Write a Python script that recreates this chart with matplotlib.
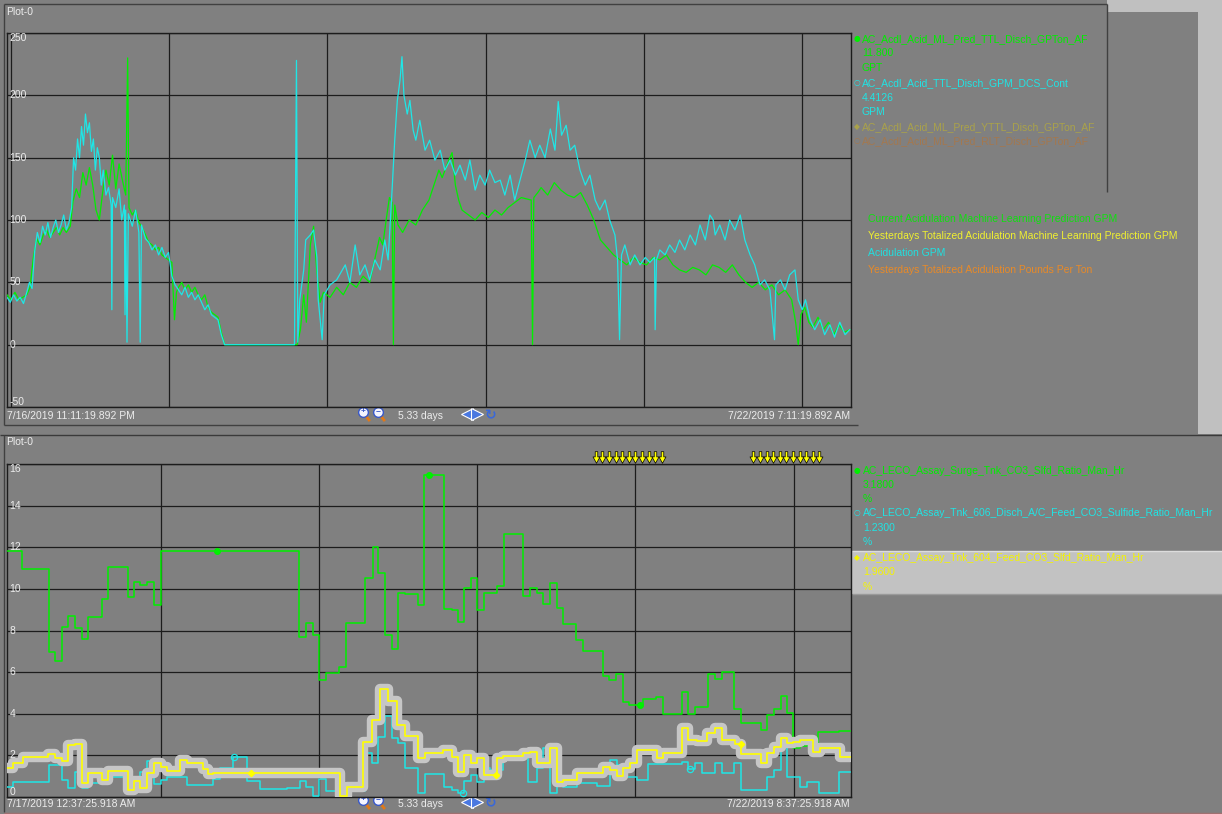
import matplotlib
matplotlib.use("Agg")
import matplotlib.pyplot as plt
import numpy as np
from matplotlib.path import Path
from matplotlib.patches import Rectangle

FONT = ["Liberation Sans", "DejaVu Sans"]
FS = 7.5
W, H = 1222, 814

# ---- top trend: hours since 7/16/2019 11:11:19 PM, span 5.33 days ----
top_span = 128.0
top_midnights = [0.6, 24.6, 48.6, 72.6, 96.6, 120.6]
top_yticks = [250, 200, 150, 100, 50, 0, -50]

acid_gpm = [  # Acidulation GPM (cyan)
    (0, 38), (0.5, 34), (1, 40), (1.5, 35), (2, 38), (2.5, 33), (3, 42), (3.4, 50), (3.8, 45),
    (4.2, 75), (4.6, 90), (5, 82), (5.4, 95), (5.8, 88), (6.2, 98), (6.6, 86), (7, 94), (7.4, 100),
    (7.8, 90), (8.2, 96), (8.6, 104), (9, 92), (9.4, 98), (9.8, 110), (10.1, 150), (10.4, 140),
    (10.7, 165), (11, 150), (11.3, 175), (11.6, 160), (11.9, 185), (12.2, 170), (12.5, 178),
    (12.8, 155), (13.1, 165), (13.4, 140), (13.7, 158), (14, 150), (14.3, 128), (14.6, 140),
    (15, 120), (15.4, 126), (15.8, 112), (15.9, 28), (16, 118), (16.5, 110), (17, 125), (17.4, 100),
    (17.8, 112), (17.9, 24), (18, 108), (18.2, 2), (18.4, 105), (19, 95), (19.5, 108), (20, 90),
    (20.2, 2), (20.4, 96), (21, 85), (21.5, 82), (22, 76), (22.5, 80), (23, 72), (23.5, 78),
    (24, 70), (24.5, 74), (25, 55), (25.5, 48), (26, 44), (26.5, 40), (27, 46), (27.5, 38),
    (28, 42), (28.5, 36), (29, 40), (29.5, 34), (30, 28), (30.5, 32), (31, 24), (31.5, 22),
    (32, 20), (32.5, 8), (33, 0), (43.6, 0), (43.9, 228), (44.1, 2), (44.4, 36), (45, 60),
    (45.3, 84), (46, 88), (46.5, 92), (47, 70), (47.2, 36), (47.8, 4), (48.1, 40), (49, 48),
    (50, 52), (51.3, 64), (52, 50), (52.8, 80), (53.5, 56), (54.3, 64), (55, 52), (55.8, 68),
    (56.6, 60), (57.3, 84), (57.8, 68), (58.4, 124), (58.8, 164), (59.2, 196), (59.6, 212),
    (59.9, 231), (60.2, 200), (60.7, 185), (61.1, 196), (61.6, 172), (62, 164), (62.6, 180),
    (63.4, 156), (64.1, 164), (64.9, 148), (65.7, 156), (66.4, 140), (67.2, 148), (68, 136),
    (68.7, 144), (69.5, 132), (70.2, 148), (71, 124), (71.7, 136), (72.5, 128), (73.2, 140),
    (74, 130), (74.8, 132), (75.5, 120), (76.3, 136), (77, 116), (77.8, 132), (78.6, 148),
    (79.3, 164), (80.1, 150), (80.8, 160), (81.6, 150), (82.4, 173), (83.1, 156), (83.6, 195),
    (84.1, 168), (84.8, 176), (85.4, 156), (86.1, 160), (86.9, 140), (87.7, 128), (88.4, 136),
    (89.2, 116), (89.9, 108), (90.7, 116), (91.4, 100), (92.2, 88), (92.6, 68), (92.9, 4),
    (93.2, 72), (93.7, 80), (94.5, 64), (95.2, 72), (96, 64), (96.8, 70), (97.5, 66), (98.2, 70),
    (98.3, 12), (98.5, 68), (99, 76), (99.8, 72), (100.5, 80), (101.3, 74), (102, 84), (102.8, 76),
    (103.6, 88), (104.4, 80), (105.1, 96), (105.9, 84), (106.6, 104), (107.1, 100), (107.4, 88),
    (108.1, 96), (108.9, 84), (109.6, 100), (110.4, 92), (111.2, 104), (111.9, 84), (112.7, 72),
    (113.4, 64), (114.2, 48), (114.9, 52), (115.7, 44), (116.4, 4), (116.6, 48), (117.3, 52),
    (118, 44), (118.7, 56), (119.5, 60), (120, 36), (120.6, 28), (121.1, 36), (121.8, 20),
    (122.5, 12), (123.3, 20), (124, 8), (124.8, 16), (125.5, 6), (126.3, 18), (127.1, 8),
    (127.8, 12),
]

ml_pred_gpm = [  # Current acidulation ML prediction (green)
    (0, 40), (0.6, 36), (1.2, 42), (1.8, 36), (2.4, 38), (3, 40), (3.5, 46), (4, 70), (4.5, 85),
    (5, 80), (5.5, 88), (6, 92), (6.5, 86), (7, 90), (7.5, 94), (8, 88), (8.5, 94), (9, 90),
    (9.6, 95), (10, 115), (10.5, 125), (11, 118), (11.5, 138), (12, 128), (12.5, 142), (13, 128),
    (13.5, 108), (14, 100), (14.5, 122), (15, 140), (15.5, 128), (16, 152), (16.5, 125), (17, 145),
    (17.5, 132), (18, 120), (18.3, 230), (18.5, 110), (19, 104), (19.5, 108), (20, 98), (20.5, 94),
    (21, 88), (21.5, 82), (22, 80), (22.5, 76), (23, 78), (23.5, 72), (24, 70), (24.5, 68),
    (25, 66), (25.4, 20), (25.7, 42), (26, 46), (26.5, 50), (27, 44), (27.5, 48), (28, 42),
    (28.5, 46), (29, 40), (29.5, 36), (30, 40), (30.5, 30), (31, 26), (31.5, 24), (32, 22),
    (32.5, 10), (33, 0), (44, 0), (44.5, 12), (45, 40), (45.4, 18), (46, 80), (46.5, 95), (47, 58),
    (47.5, 34), (48, 42), (49, 38), (50, 46), (51, 40), (52, 50), (53, 46), (54, 55), (55, 50),
    (56, 74), (56.5, 86), (57, 80), (57.5, 100), (58, 118), (58.4, 114), (58.6, 0), (58.8, 112),
    (59.3, 96), (60, 90), (61, 100), (62, 96), (63, 108), (64, 116), (65, 132), (65.5, 140),
    (66, 134), (67, 148), (67.5, 154), (68, 128), (68.5, 116), (69, 108), (70, 104), (71, 100),
    (72, 106), (73, 102), (74, 108), (75, 104), (76, 110), (77, 114), (78, 118), (79.5, 116),
    (79.7, 0), (79.9, 118), (80.5, 122), (81, 126), (82, 120), (83, 130), (84, 124), (85, 120),
    (86, 118), (87, 122), (88, 112), (89, 100), (90, 84), (91, 78), (92, 72), (93, 68), (94, 64),
    (95, 70), (96, 66), (97, 64), (98, 70), (99, 68), (100, 72), (101, 64), (102, 60), (103, 58),
    (104, 62), (105, 60), (106, 56), (107, 64), (108, 62), (109, 58), (110, 64), (111, 56),
    (112, 50), (113, 46), (114, 50), (115, 44), (116, 48), (117, 40), (118, 44), (119, 36),
    (119.6, 18), (120, 0), (120.4, 24), (121, 30), (121.6, 18), (122.2, 14), (123, 22),
    (123.8, 12), (124.6, 18), (125.4, 8), (126.2, 16), (127, 10), (127.8, 12),
]

# ---- bottom trend: hours since 7/17/2019 12:37:25 AM, step values (start hour, %) ----
bot_span = 128.0
bot_midnights = [23.3, 47.3, 71.3, 95.3, 119.3]
bot_yticks = [16, 14, 12, 10, 8, 6, 4, 2, 0]

surge_tnk = [
    (0, 11.8), (2.3, 10.95), (6.4, 6.97), (7.3, 6.52), (8.3, 8.18), (9.3, 8.7), (10.3, 8.12),
    (11.4, 7.57), (12.3, 8.66), (14.4, 9.53), (15.3, 11.03), (18.4, 9.63), (19.3, 10.35),
    (20.2, 10.19), (21.2, 10.35), (22.3, 9.24), (23.4, 11.8), (44.3, 7.67), (45.3, 8.38),
    (46.4, 7.77), (47.3, 5.62), (48.4, 5.94), (50.4, 6.23), (51.4, 8.34), (54.3, 10.52),
    (55.5, 12.0), (56.3, 10.75), (57.3, 7.78), (58.4, 7.13), (59.3, 9.82), (60.4, 9.74),
    (62.3, 9.21), (63.2, 15.47), (66.3, 9.05), (67.5, 8.99), (68.4, 8.43), (69.3, 10.04),
    (70.4, 10.52), (71.3, 9.0), (72.3, 9.8), (74.3, 10.16), (75.4, 12.64), (78.3, 9.66),
    (79.3, 10.04), (80.4, 9.79), (81.3, 9.26), (82.3, 10.27), (83.4, 9.1), (84.3, 8.29),
    (86.3, 7.54), (87.4, 7.02), (90.4, 5.81), (91.3, 5.62), (92.4, 5.91), (93.4, 4.57),
    (94.3, 4.41), (96.5, 4.72), (98.4, 4.79), (99.5, 3.97), (102.4, 5.03), (103.3, 3.97),
    (104.3, 4.31), (106.3, 5.91), (107.4, 5.69), (108.4, 6.0), (110.3, 4.24), (111.3, 3.54),
    (114.3, 3.22), (115.3, 3.93), (116.3, 4.24), (117.4, 4.87), (118.3, 4.02), (119.2, 2.34),
    (120.3, 2.45), (121.3, 2.5), (123.0, 3.11), (126.2, 3.17),
]

tnk_606 = [
    (0, 0.5), (0.9, 0.71), (6.4, 1.54), (8.3, 0.82), (9.3, 0.42), (10.3, 1.22), (11.4, 0.42),
    (12.3, 0.66), (15.3, 0.98), (18.4, 0.7), (19.3, 0.85), (20.2, 1.19), (21.2, 1.75),
    (22.3, 0.62), (23.4, 0.82), (24.3, 0.95), (27.3, 0.58), (31.2, 0.85), (32.3, 1.38),
    (34.3, 1.9), (36.4, 0.78), (38.4, 0.37), (42.5, 0.42), (44.4, 0.77), (45.3, 0.5),
    (46.4, 0.05), (47.3, 0.85), (48.4, 0.3), (54.3, 2.13), (55.4, 1.65), (56.3, 2.9),
    (57.3, 3.89), (58.4, 2.82), (59.3, 2.61), (60.4, 1.38), (62.3, 0.21), (63.4, 1.09),
    (66.3, 0.5), (67.5, 0.34), (68.4, 0.18), (69.3, 0.78), (70.4, 1.06), (71.3, 0.74),
    (72.3, 1.38), (73.2, 1.3), (75.2, 1.9), (79.0, 0.74), (80.4, 1.38), (81.3, 2.34),
    (82.3, 0.18), (83.4, 0.74), (84.3, 0.5), (86.4, 0.66), (89.5, 0.54), (91.4, 1.78),
    (92.5, 1.54), (94.0, 0.95), (95.5, 0.82), (97.2, 1.59), (102.4, 1.7), (103.3, 1.35),
    (104.3, 1.65), (105.4, 1.14), (107.4, 1.65), (108.4, 1.14), (110.3, 1.65), (111.3, 0.34),
    (115.3, 0.95), (116.3, 1.3), (117.4, 2.45), (118.3, 0.98), (120.3, 0.5), (121.3, 0.74),
    (123.1, 0.21), (126.2, 1.19),
]

tnk_604 = [
    (0, 1.38), (0.9, 1.62), (2.4, 1.94), (6.2, 2.05), (7.3, 1.86), (8.3, 1.73), (9.3, 2.5),
    (10.3, 2.55), (11.4, 0.66), (12.3, 1.17), (14.4, 0.82), (15.3, 1.25), (18.4, 0.34),
    (19.3, 0.78), (20.2, 0.45), (21.2, 1.14), (22.3, 1.62), (23.4, 1.46), (24.3, 1.27),
    (26.2, 1.78), (27.3, 1.62), (29.7, 1.33), (30.5, 1.09), (31.2, 1.17), (50.5, 0.05),
    (51.6, 0.5), (54.0, 2.66), (55.4, 3.7), (56.6, 5.17), (57.8, 4.6), (59.1, 3.48),
    (60.4, 2.93), (62.3, 1.86), (63.4, 2.1), (66.1, 2.26), (67.5, 1.94), (68.4, 1.22),
    (69.3, 2.02), (70.4, 1.62), (71.3, 1.86), (72.3, 1.06), (74.3, 1.86), (75.2, 1.97),
    (78.3, 2.1), (79.3, 2.18), (80.4, 1.65), (82.3, 2.34), (83.4, 0.7), (84.3, 0.82),
    (86.4, 1.14), (90.4, 1.46), (91.4, 1.3), (92.5, 1.0), (93.4, 1.38), (94.5, 1.62),
    (95.5, 2.26), (98.6, 1.86), (99.5, 2.13), (102.4, 3.3), (103.3, 2.76), (104.6, 2.67),
    (106.2, 3.06), (107.4, 3.3), (108.4, 2.73), (110.4, 2.55), (111.3, 2.07), (114.3, 1.65),
    (115.3, 2.1), (116.3, 2.42), (117.4, 2.82), (118.3, 2.58), (119.2, 2.66), (120.3, 2.73),
    (122.2, 2.18), (123.3, 2.34), (126.3, 1.94),
]

surge_marks = [(31.8, 11.8), (64.0, 15.47), (96.0, 4.41)]
tnk_606_marks = [(34.4, 1.9), (69.2, 0.18), (103.6, 1.35)]
tnk_604_marks = [(37.0, 1.17), (74.2, 1.06), (111.3, 2.55)]
event_hours = [89.3, 90.3, 91.3, 92.3, 93.3, 94.3, 95.3, 96.3, 97.3, 98.3, 99.3,
               113.2, 114.2, 115.2, 116.2, 117.2, 118.2, 119.2, 120.2, 121.2, 122.2, 123.2]

GREEN, CYAN, YELLOW = "#00f000", "#1fe6e6", "#ffff00"
GRID = "#1c1c1c"
PANEL = "#808080"
TXT = "#ececec"
EDGE = "#404040"


def unzip(pts):
    a = np.array(pts, dtype=float)
    return a[:, 0], a[:, 1]


def steps(pts, end):
    x, y = unzip(pts)
    return np.append(x, end), np.append(y, y[-1])


fig = plt.figure(figsize=(W / 100, H / 100), dpi=100, facecolor="#c0c0c0")

# background canvas in pixel coordinates
bg = fig.add_axes([0, 0, 1, 1], zorder=-1)
bg.set_xlim(0, W)
bg.set_ylim(H, 0)
bg.axis("off")


def box(x0, y0, x1, y1, color, **kw):
    bg.add_patch(Rectangle((x0, y0), x1 - x0, y1 - y0, facecolor=color, edgecolor="none", **kw))


def line(xs, ys, color=EDGE, lw=1.0):
    bg.plot(xs, ys, color=color, lw=lw, solid_capstyle="butt")


def txt(x, y, s, color=TXT, ha="left", size=FS, **kw):
    bg.text(x, y, s, color=color, ha=ha, va="center", fontsize=size, family=FONT, **kw)


box(0, 0, 1107, 434, PANEL)
box(1107, 12, 1198, 434, PANEL)
box(0, 434, W, H, PANEL)
line([3.5, 1107], [3.5, 3.5])
line([1107, 1107], [3.5, 192])
line([3.5, 3.5], [3.5, 425])
line([3.5, 858], [424.5, 424.5])
line([0, W], [434.5, 434.5], "#3a3a3a")
line([3.5, 3.5], [435, 812])
line([3.5, W], [812.5, 812.5], "#a07070")

txt(6, 12, "Plot-0")
txt(6, 442, "Plot-0")

# date bars with navigation icons
for yb, t0, t1 in [(416, "7/16/2019 11:11:19.892 PM", "7/22/2019 7:11:19.892 AM"),
                   (804, "7/17/2019 12:37:25.918 AM", "7/22/2019 8:37:25.918 AM")]:
    txt(7, yb, t0)
    txt(850, yb, t1, ha="right")
    txt(398, yb, "5.33 days")
    for xm, sign in [(363, "+"), (378, "\u2212")]:
        bg.plot([xm + 2, xm + 6], [yb - 1, yb + 4], color="#e07818", lw=2)
        bg.plot(xm, yb - 4, "o", ms=7, mfc="#f4f4ff", mec="#3858c8", mew=1)
        bg.text(xm, yb - 4, sign, color="#3858c8", ha="center", va="center",
                fontsize=6, fontweight="bold", family=FONT)
    bg.plot(467, yb - 2, marker="<", ms=9, mfc="#4a78e0", mec="white", mew=0.8)
    bg.plot(477, yb - 2, marker=">", ms=9, mfc="#4a78e0", mec="white", mew=0.8)
    bg.text(491, yb - 1, "\u21bb", color="#3a68d8", ha="center", va="center",
            fontsize=10, fontweight="bold", family=["DejaVu Sans"])

# top legend
top_legend = [
    (39, "\u25cf", "AC_Acdl_Acid_ML_Pred_TTL_Disch_GPTon_AF", "#00ee00"),
    (53, "", "11.800", "#00ee00"),
    (68, "", "GPT", "#00ee00"),
    (83, "\u25cb", "AC_Acdl_Acid_TTL_Disch_GPM_DCS_Cont", "#20e4e4"),
    (98, "", "4.4126", "#20e4e4"),
    (112, "", "GPM", "#20e4e4"),
    (127, "\u25c6", "AC_Acdl_Acid_ML_Pred_YTTL_Disch_GPTon_AF", "#aaa24a"),
    (141, "\u25cb", "AC_Acdl_Acid_ML_Pred_RLT_Disch_GPTon_AF", "#a4784e"),
]
for y, mk, s, c in top_legend:
    if mk:
        bg.text(857, y, mk, color=c, ha="center", va="center", fontsize=5.5, family=["DejaVu Sans"])
    txt(862, y, s, color=c)

notes = [
    (219, "Current Acidulation Machine Learning Prediction GPM", "#10e010"),
    (236, "Yesterdays Totalized Acidulation Machine Learning Prediction GPM", "#f0f030"),
    (253, "Acidulation GPM", "#20e0e0"),
    (270, "Yesterdays Totalized Acidulation Pounds Per Ton", "#e88a28"),
]
for y, s, c in notes:
    txt(868, y, s, color=c)

# bottom legend with highlighted row
box(852, 551, W, 594, "#c2c2c2")
line([852, W], [551, 551], "#dcdcdc")
line([852, W], [594, 594], "#9a9a9a")
bot_legend = [
    (471, "\u25cf", "AC_LECO_Assay_Surge_Tnk_CO3_Slfd_Ratio_Man_Hr", "#00ee00"),
    (485, "", "3.1800", "#00ee00"),
    (499, "", "%", "#00ee00"),
    (513, "\u25cb", "AC_LECO_Assay_Tnk_606_Disch_A/C_Feed_CO3_Sulfide_Ratio_Man_Hr", "#20e4e4"),
    (528, "", "1.2300", "#20e4e4"),
    (542, "", "%", "#20e4e4"),
    (558, "\u25c6", "AC_LECO_Assay_Tnk_604_Feed_CO3_Slfd_Ratio_Man_Hr", "#f4f400"),
    (572, "", "1.9600", "#f4f400"),
    (587, "", "%", "#f4f400"),
]
for y, mk, s, c in bot_legend:
    if mk:
        bg.text(857, y, mk, color=c, ha="center", va="center", fontsize=5.5, family=["DejaVu Sans"])
    txt(863, y, s, color=c)


def trend_axes(left, top, right, bottom):
    ax = fig.add_axes([left / W, 1 - bottom / H, (right - left) / W, (bottom - top) / H])
    ax.set_facecolor(PANEL)
    ax.set_xticks([])
    ax.set_yticks([])
    for sp in ax.spines.values():
        sp.set_color(GRID)
        sp.set_linewidth(1.0)
    return ax


def grid_and_labels(ax, yticks, midnights):
    for v in yticks:
        ax.axhline(v, color=GRID, lw=0.9, zorder=1)
    for h in midnights:
        ax.axvline(h, color=GRID, lw=0.9, zorder=1)
    tr = ax.get_yaxis_transform()
    for i, v in enumerate(yticks):
        va = "top" if i == 0 else ("bottom" if i == len(yticks) - 1 else "center")
        ax.text(0.003, v, str(v), transform=tr, color=TXT, fontsize=FS, family=FONT,
                ha="left", va=va, zorder=5)


# ---- top plot ----
ax1 = trend_axes(7, 33, 851, 407)
ax1.set_xlim(0, top_span)
ax1.set_ylim(-50, 250)
grid_and_labels(ax1, top_yticks, top_midnights)
x, y = unzip(ml_pred_gpm)
ax1.plot(x, y, color=GREEN, lw=0.9, zorder=3)
x, y = unzip(acid_gpm)
ax1.plot(x, y, color=CYAN, lw=0.9, zorder=4)

# ---- bottom plot ----
ax2 = trend_axes(7, 464, 851, 797)
ax2.set_xlim(0, bot_span)
ax2.set_ylim(0, 16)
grid_and_labels(ax2, bot_yticks, bot_midnights)
x, y = steps(surge_tnk, 127.8)
ax2.step(x, y, where="post", color=GREEN, lw=1.1, zorder=3)
x, y = steps(tnk_606, 127.8)
ax2.step(x, y, where="post", color=CYAN, lw=1.1, zorder=3)
x, y = steps(tnk_604, 127.8)
ax2.step(x, y, where="post", color="#c6c6c6", lw=7.5, zorder=4,
         solid_joinstyle="round", solid_capstyle="round")
ax2.step(x, y, where="post", color=YELLOW, lw=1.2, zorder=5)

mx, my = unzip(surge_marks)
ax2.plot(mx, my, "o", color=GREEN, ms=4, zorder=6)
mx, my = unzip(tnk_606_marks)
ax2.plot(mx, my, "o", mfc="none", mec=CYAN, ms=4.5, mew=0.9, zorder=6)
mx, my = unzip(tnk_604_marks)
ax2.plot(mx, my, "D", color=YELLOW, ms=3.2, zorder=6)

# event arrows above the bottom plot
arrow = Path([(-0.22, 1), (0.22, 1), (0.22, 0.1), (0.6, 0.1), (0, -1), (-0.6, 0.1), (-0.22, 0.1), (-0.22, 1)],
             [Path.MOVETO] + [Path.LINETO] * 6 + [Path.CLOSEPOLY])
ax2.scatter(event_hours, [1.021] * len(event_hours), marker=arrow, s=70,
            facecolor=YELLOW, edgecolor="black", linewidth=0.5,
            transform=ax2.get_xaxis_transform(), clip_on=False, zorder=7)

fig.savefig("out.png", dpi=100, facecolor=fig.get_facecolor())
